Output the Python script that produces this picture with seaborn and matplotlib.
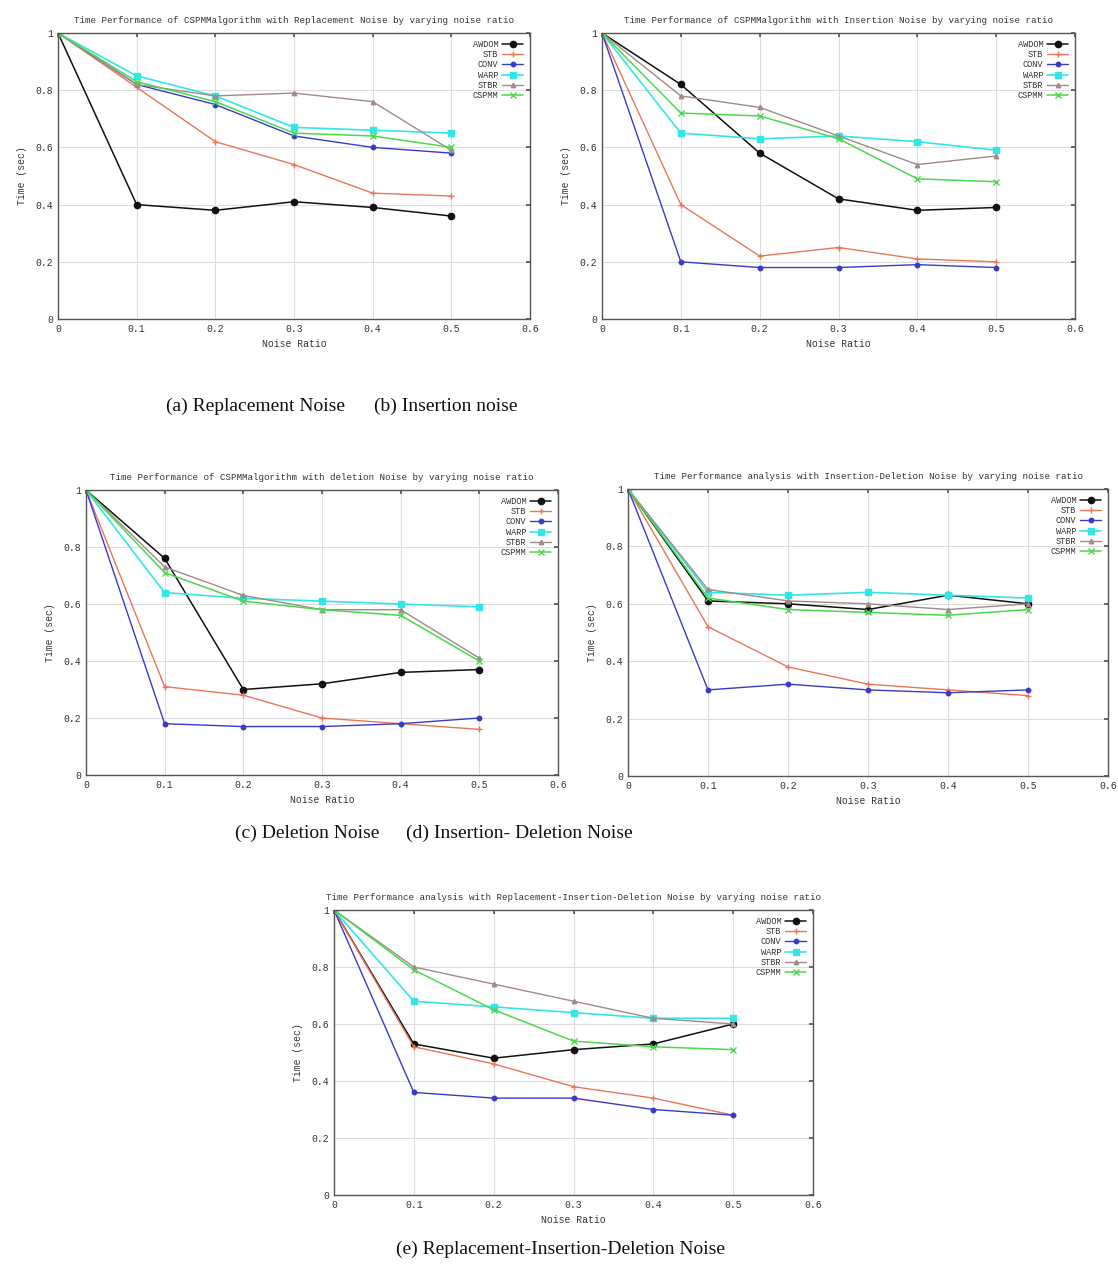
import numpy as np
import pandas as pd
import matplotlib
matplotlib.use("Agg")
import matplotlib.pyplot as plt
import seaborn as sns

sns.set_theme(style="white")
plt.rcParams['font.family'] = ['Liberation Mono', 'DejaVu Sans Mono']

noise_ratio = [0, 0.1, 0.2, 0.3, 0.4, 0.5]
algorithms = ["AWDOM", "STB", "CONV", "WARP", "STBR", "CSPMM"]

# (a) Replacement noise
rep_awdom = [1, 0.40, 0.38, 0.41, 0.39, 0.36]
rep_stb = [1, 0.81, 0.62, 0.54, 0.44, 0.43]
rep_conv = [1, 0.82, 0.75, 0.64, 0.60, 0.58]
rep_warp = [1, 0.85, 0.78, 0.67, 0.66, 0.65]
rep_stbr = [1, 0.82, 0.78, 0.79, 0.76, 0.59]
rep_cspmm = [1, 0.83, 0.76, 0.65, 0.64, 0.60]

# (b) Insertion noise
ins_awdom = [1, 0.82, 0.58, 0.42, 0.38, 0.39]
ins_stb = [1, 0.40, 0.22, 0.25, 0.21, 0.20]
ins_conv = [1, 0.20, 0.18, 0.18, 0.19, 0.18]
ins_warp = [1, 0.65, 0.63, 0.64, 0.62, 0.59]
ins_stbr = [1, 0.78, 0.74, 0.64, 0.54, 0.57]
ins_cspmm = [1, 0.72, 0.71, 0.63, 0.49, 0.48]

# (c) Deletion noise
del_awdom = [1, 0.76, 0.30, 0.32, 0.36, 0.37]
del_stb = [1, 0.31, 0.28, 0.20, 0.18, 0.16]
del_conv = [1, 0.18, 0.17, 0.17, 0.18, 0.20]
del_warp = [1, 0.64, 0.62, 0.61, 0.60, 0.59]
del_stbr = [1, 0.73, 0.63, 0.58, 0.58, 0.41]
del_cspmm = [1, 0.71, 0.61, 0.58, 0.56, 0.40]

# (d) Insertion-Deletion noise
id_awdom = [1, 0.61, 0.60, 0.58, 0.63, 0.60]
id_stb = [1, 0.52, 0.38, 0.32, 0.30, 0.28]
id_conv = [1, 0.30, 0.32, 0.30, 0.29, 0.30]
id_warp = [1, 0.64, 0.63, 0.64, 0.63, 0.62]
id_stbr = [1, 0.65, 0.61, 0.60, 0.58, 0.60]
id_cspmm = [1, 0.62, 0.58, 0.57, 0.56, 0.58]

# (e) Replacement-Insertion-Deletion noise
rid_awdom = [1, 0.53, 0.48, 0.51, 0.53, 0.60]
rid_stb = [1, 0.52, 0.46, 0.38, 0.34, 0.28]
rid_conv = [1, 0.36, 0.34, 0.34, 0.30, 0.28]
rid_warp = [1, 0.68, 0.66, 0.64, 0.62, 0.62]
rid_stbr = [1, 0.80, 0.74, 0.68, 0.62, 0.60]
rid_cspmm = [1, 0.79, 0.65, 0.54, 0.52, 0.51]

titles = [
    "Time Performance of CSPMMalgorithm with Replacement Noise by varying noise ratio",
    "Time Performance of CSPMMalgorithm with Insertion Noise by varying noise ratio",
    "Time Performance of CSPMMalgorithm with deletion Noise by varying noise ratio",
    "Time Performance analysis with Insertion-Deletion Noise by varying noise ratio",
    "Time Performance analysis with Replacement-Insertion-Deletion Noise by varying noise ratio",
]
captions = [
    "(a) Replacement Noise",
    "(b) Insertion noise",
    "(c) Deletion Noise",
    "(d) Insertion- Deletion Noise",
    "(e) Replacement-Insertion-Deletion Noise",
]
x_ticks = [0, 0.1, 0.2, 0.3, 0.4, 0.5, 0.6]
x_tick_labels = ["0", "0.1", "0.2", "0.3", "0.4", "0.5", "0.6"]
y_ticks = [0, 0.2, 0.4, 0.6, 0.8, 1.0]
y_tick_labels = ["0", "0.2", "0.4", "0.6", "0.8", "1"]

panels = [
    [rep_awdom, rep_stb, rep_conv, rep_warp, rep_stbr, rep_cspmm],
    [ins_awdom, ins_stb, ins_conv, ins_warp, ins_stbr, ins_cspmm],
    [del_awdom, del_stb, del_conv, del_warp, del_stbr, del_cspmm],
    [id_awdom, id_stb, id_conv, id_warp, id_stbr, id_cspmm],
    [rid_awdom, rid_stb, rid_conv, rid_warp, rid_stbr, rid_cspmm],
]

colors = {"AWDOM": "#111111", "STB": "#e8765a", "CONV": "#3a3ac8",
          "WARP": "#33e6e6", "STBR": "#a08a8a", "CSPMM": "#4cd84c"}
markers = {"AWDOM": "o", "STB": "+", "CONV": "o", "WARP": "s",
           "STBR": "^", "CSPMM": "x"}
msizes = {"AWDOM": 4.5, "STB": 4.5, "CONV": 3.2, "WARP": 4.5, "STBR": 3.2, "CSPMM": 3.8}
lwidths = {"AWDOM": 1.1, "STB": 1.0, "CONV": 1.0, "WARP": 1.2, "STBR": 1.0, "CSPMM": 1.1}

W, H = 1118, 1265
fig = plt.figure(figsize=(W / 100, H / 100), dpi=100)

# axes boxes in pixels: left, top, right, bottom
boxes = [
    (58, 33, 530, 319),
    (602, 33, 1075, 319),
    (86, 490, 558, 775),
    (628, 489, 1108, 776),
    (334, 910, 813, 1195),
]
caption_pos = [(255, 406), (446, 406), (307, 833), (519, 833), (560, 1249)]

for i, (box, series) in enumerate(zip(boxes, panels)):
    l, t, r, b = box
    ax = fig.add_axes([l / W, 1 - b / H, (r - l) / W, (b - t) / H])
    rows = []
    for name, vals in zip(algorithms, series):
        for xv, yv in zip(noise_ratio, vals):
            rows.append({"Noise Ratio": xv, "Time": yv, "Algorithm": name})
    df = pd.DataFrame(rows)
    for name in algorithms:
        sub = df[df["Algorithm"] == name]
        sns.lineplot(data=sub, x="Noise Ratio", y="Time", ax=ax, color=colors[name],
                     marker=markers[name], markersize=msizes[name], linewidth=lwidths[name],
                     markeredgecolor=colors[name], markeredgewidth=1.0, label=name)
    ax.set_xlim(0, 0.6)
    ax.set_ylim(0, 1.0)
    ax.set_xticks(x_ticks)
    ax.set_xticklabels(x_tick_labels)
    ax.set_yticks(y_ticks)
    ax.set_yticklabels(y_tick_labels)
    ax.grid(True, color="#dddddd", linewidth=0.8)
    ax.tick_params(direction="in", top=True, right=True, labelsize=7, length=3,
                   color="#555555", labelcolor="#333333")
    for sp in ax.spines.values():
        sp.set_color("#555555")
        sp.set_linewidth(1.0)
    ax.set_xlabel("Noise Ratio", fontsize=7, color="#333333", labelpad=4)
    ax.set_ylabel("Time (sec)", fontsize=7, color="#333333", labelpad=6)
    ax.set_title(titles[i], fontsize=6.6, color="#333333", pad=7)
    leg = ax.legend(loc="upper right", frameon=False, markerfirst=False, fontsize=6.2,
                    handlelength=2.4, labelspacing=0.15, borderaxespad=0.4,
                    handletextpad=0.5)
    for txt in leg.get_texts():
        txt.set_color("#333333")
    cx, cy = caption_pos[i]
    fig.text(cx / W, 1 - cy / H, captions[i], ha="center", va="center",
             fontsize=14, family="Liberation Serif", color="#111111")

fig.savefig("out.png", dpi=100, facecolor="white")
